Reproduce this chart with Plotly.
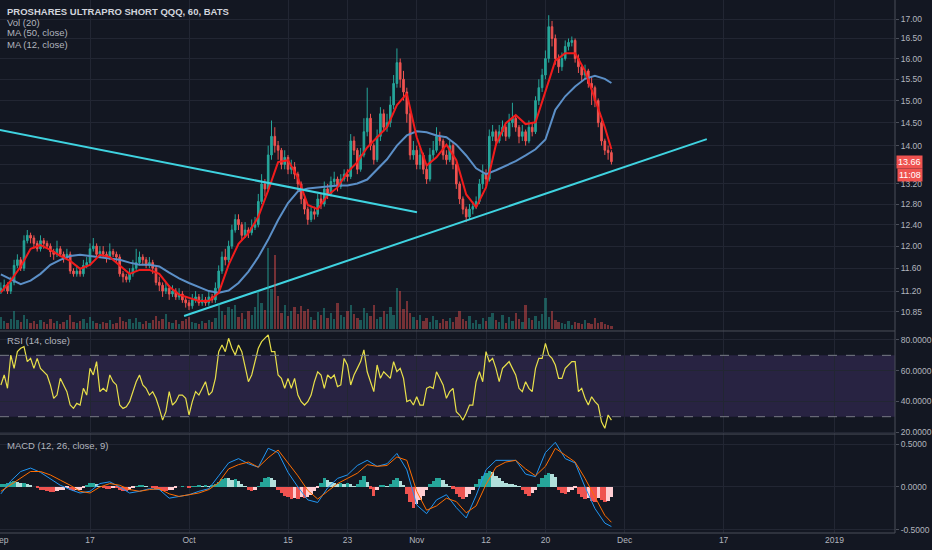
import numpy as np
import plotly.graph_objects as go

# 60 min bars squeezed to 3 samples per trading day, Sep 4 -> Nov 29 2018
close = [
    11.25, 11.30, 11.20, 11.35, 11.65, 11.75, 11.60, 12.10, 12.20, 12.15,
    12.05, 11.95, 12.10, 12.05, 12.00, 11.90, 11.85, 11.95, 11.85, 11.80,
    11.85, 11.55, 11.50, 11.55, 11.50, 11.65, 11.70, 11.95, 12.00, 11.85,
    11.90, 11.85, 11.80, 11.90, 11.85, 11.80, 11.50, 11.45, 11.40, 11.50,
    11.60, 11.70, 11.80, 11.75, 11.65, 11.70, 11.60, 11.35, 11.30, 11.20,
    11.25, 11.15, 11.20, 11.10, 11.15, 11.05, 11.00, 10.95, 11.05, 11.10,
    11.00, 11.05, 11.00, 11.10, 11.05, 11.25, 11.55, 11.80, 11.75, 12.00,
    12.30, 12.50, 12.40, 12.20, 12.30, 12.25, 12.35, 12.40, 12.85, 13.20,
    13.10, 13.80, 14.20, 14.00, 13.90, 13.60, 13.75, 13.50, 13.55, 13.40,
    13.20, 12.90, 12.70, 12.50, 12.65, 12.60, 12.90, 12.80, 13.10, 13.00,
    13.25, 13.30, 13.15, 13.30, 13.40, 13.35, 14.10, 13.90, 13.50, 13.80,
    14.30, 14.60, 14.00, 13.70, 14.20, 14.70, 14.40, 14.50, 14.90, 15.40,
    15.90, 15.50, 15.20, 14.70, 13.80, 13.90, 13.60, 13.80, 13.50, 13.30,
    13.80, 13.90, 14.20, 14.10, 13.80, 13.70, 14.00, 13.60, 13.20, 12.90,
    12.70, 12.55, 12.70, 12.75, 12.85, 13.20, 13.40, 13.30, 14.20, 14.30,
    14.10, 14.30, 14.40, 14.20, 14.50, 14.60, 14.40, 14.20, 14.30, 14.10,
    14.40, 14.30, 15.00, 15.30, 15.60, 16.00, 16.80, 16.50, 16.00, 15.80,
    16.00, 16.30, 16.40, 16.45, 16.00, 15.80, 15.60, 15.70, 15.40, 15.30,
    15.00, 14.50, 14.10, 13.90, 13.85, 13.66,
]
high = [
    11.35, 11.40, 11.35, 11.45, 11.75, 11.85, 11.80, 12.20, 12.30, 12.25,
    12.20, 12.10, 12.20, 12.15, 12.10, 12.05, 11.95, 12.10, 12.00, 11.90,
    11.95, 11.90, 11.60, 11.65, 11.60, 11.75, 11.80, 12.05, 12.15, 12.05,
    12.00, 12.00, 11.90, 12.05, 11.95, 11.90, 11.85, 11.55, 11.50, 11.60,
    11.75, 11.95, 11.90, 11.85, 11.80, 11.80, 11.75, 11.65, 11.45, 11.35,
    11.35, 11.30, 11.30, 11.25, 11.25, 11.20, 11.10, 11.05, 11.15, 11.20,
    11.15, 11.15, 11.10, 11.20, 11.15, 11.35, 11.65, 11.90, 11.95, 12.10,
    12.40, 12.60, 12.60, 12.45, 12.45, 12.35, 12.50, 12.55, 13.00, 13.40,
    13.30, 14.00, 14.55, 14.40, 14.10, 13.95, 13.90, 13.80, 13.70, 13.65,
    13.45, 13.25, 12.95, 12.75, 12.75, 12.75, 13.00, 13.00, 13.25, 13.20,
    13.35, 13.45, 13.35, 13.40, 13.50, 13.50, 14.25, 14.20, 13.95, 13.95,
    14.60, 15.30, 14.70, 14.05, 14.35, 14.85, 14.80, 14.70, 15.10, 15.60,
    16.25, 16.00, 15.70, 15.30, 14.80, 14.10, 14.00, 13.95, 13.85, 13.60,
    13.95, 14.10, 14.40, 14.30, 14.15, 13.90, 14.10, 14.05, 13.65, 13.25,
    12.95, 12.75, 12.80, 12.85, 12.95, 13.30, 13.60, 13.50, 14.35, 14.45,
    14.35, 14.45, 14.55, 14.45, 14.70, 14.95, 14.65, 14.45, 14.45, 14.35,
    14.55, 14.50, 15.10, 15.50, 15.75, 16.20, 17.10, 16.95, 16.60, 16.10,
    16.15, 16.45, 16.50, 16.55, 16.50, 16.10, 15.85, 15.85, 15.75, 15.55,
    15.35, 15.05, 14.55, 14.15, 14.00, 13.90,
]
low = [
    11.15, 11.20, 11.15, 11.15, 11.30, 11.60, 11.55, 11.55, 12.05, 12.05,
    11.95, 11.90, 11.90, 11.95, 11.95, 11.80, 11.75, 11.80, 11.80, 11.70,
    11.75, 11.50, 11.45, 11.45, 11.45, 11.45, 11.60, 11.65, 11.90, 11.80,
    11.80, 11.80, 11.70, 11.75, 11.80, 11.70, 11.45, 11.35, 11.35, 11.35,
    11.45, 11.55, 11.65, 11.65, 11.60, 11.60, 11.50, 11.30, 11.20, 11.10,
    11.15, 11.05, 11.10, 11.05, 11.05, 11.00, 10.92, 10.88, 10.90, 11.00,
    10.95, 10.95, 10.95, 10.95, 11.00, 11.00, 11.20, 11.50, 11.65, 11.70,
    11.95, 12.25, 12.30, 12.10, 12.15, 12.15, 12.20, 12.30, 12.35, 12.80,
    12.95, 13.05, 13.70, 13.85, 13.70, 13.50, 13.50, 13.40, 13.40, 13.30,
    13.05, 12.80, 12.60, 12.40, 12.45, 12.50, 12.55, 12.70, 12.75, 12.90,
    12.95, 13.15, 13.05, 13.10, 13.25, 13.25, 13.30, 13.80, 13.40, 13.45,
    13.75, 14.20, 13.90, 13.60, 13.65, 14.10, 14.30, 14.30, 14.40, 14.80,
    15.30, 15.30, 15.00, 14.50, 13.70, 13.70, 13.50, 13.50, 13.40, 13.20,
    13.25, 13.70, 13.85, 14.00, 13.70, 13.60, 13.65, 13.50, 13.10, 12.80,
    12.60, 12.45, 12.50, 12.60, 12.70, 12.80, 13.10, 13.15, 13.25, 14.10,
    14.00, 14.05, 14.20, 14.10, 14.15, 14.40, 14.30, 14.05, 14.10, 14.00,
    14.05, 14.20, 14.25, 14.90, 15.20, 15.50, 15.90, 16.30, 15.85, 15.65,
    15.70, 15.95, 16.20, 16.30, 15.90, 15.65, 15.45, 15.50, 15.30, 14.90,
    14.85, 14.40, 14.00, 13.80, 13.70, 13.60,
]
first_open = 11.20

# volume in thousands of shares
volume = [
    120, 80, 60, 100, 180, 90, 70, 140, 100, 60,
    80, 50, 90, 70, 50, 100, 60, 80, 50, 70,
    90, 140, 70, 60, 80, 100, 60, 120, 80, 60,
    50, 70, 60, 90, 50, 60, 120, 80, 70, 100,
    60, 110, 70, 50, 80, 60, 90, 130, 80, 100,
    150, 70, 60, 90, 50, 80, 100, 120, 70, 60,
    50, 80, 60, 90, 70, 110, 260, 180, 140, 220,
    200, 240, 120, 160, 100, 180, 140, 220, 380, 260,
    190, 810, 400, 740, 330, 160, 240, 130, 180, 220,
    150, 230, 180, 200, 120, 90, 170, 140, 210, 110,
    160, 100, 260, 140, 120, 180, 240, 150, 110, 90,
    210, 160, 130, 240, 100, 120, 180, 150, 220, 140,
    410, 380, 200, 280, 160, 120, 90, 140, 80, 110,
    70, 130, 90, 60, 100, 80, 110, 70, 120, 180,
    100, 80, 130, 60, 90, 50, 110, 80, 120, 160,
    90, 70, 140, 60, 120, 80, 160, 100, 70, 240,
    110, 90, 130, 80, 150, 310, 120, 180, 90, 70,
    60, 50, 80, 40, 70, 60, 50, 90, 60, 50,
    110, 60, 70, 50, 40, 30,
]

rsi = [
    50.7, 57.2, 48.5, 70.2, 61.5, 72.4, 74.6, 75.7, 65.9, 68.0,
    61.5, 68.0, 61.5, 59.3, 57.2, 50.7, 42.0, 44.1, 55.0, 50.7,
    46.3, 37.6, 35.4, 38.7, 37.6, 48.5, 44.1, 61.5, 57.2, 65.9,
    46.3, 48.5, 46.3, 57.2, 52.8, 50.7, 37.6, 35.4, 36.5, 39.8,
    46.3, 52.8, 57.2, 50.7, 48.5, 44.1, 46.3, 42.0, 35.4, 27.8,
    33.3, 46.3, 37.6, 39.8, 44.1, 44.1, 42.0, 31.1, 39.8, 46.3,
    44.1, 48.5, 52.8, 44.1, 46.3, 55.0, 72.4, 76.7, 72.4, 81.1,
    74.6, 70.2, 76.7, 72.4, 61.5, 52.8, 57.2, 65.9, 74.6, 78.9,
    81.1, 83.3, 72.4, 72.4, 57.2, 55.0, 48.5, 55.0, 48.5, 55.0,
    44.1, 39.8, 37.6, 39.8, 44.1, 52.8, 59.3, 57.2, 48.5, 57.2,
    55.0, 57.2, 49.6, 50.7, 68.0, 63.7, 50.7, 57.2, 61.5, 65.9,
    73.5, 59.3, 52.8, 46.3, 63.7, 55.0, 59.3, 57.2, 55.0, 65.9,
    59.3, 61.5, 55.0, 39.8, 40.9, 37.6, 43.0, 37.6, 37.6, 48.5,
    49.6, 48.5, 59.3, 55.0, 50.7, 42.0, 46.3, 48.5, 33.3, 31.1,
    27.8, 32.2, 37.6, 37.6, 52.8, 59.3, 52.8, 72.4, 65.9, 68.0,
    61.5, 52.8, 61.5, 63.7, 65.9, 61.5, 57.2, 48.5, 46.3, 52.8,
    48.5, 46.3, 61.5, 68.0, 68.0, 77.8, 70.2, 68.0, 63.7, 55.0,
    55.0, 61.5, 63.7, 65.9, 65.9, 46.3, 48.5, 42.0, 37.6, 43.0,
    39.8, 37.6, 26.7, 22.4, 31.1, 27.8,
]

macd_hist = [
    0.03, 0.04, 0.05, 0.06, 0.07, 0.06, 0.05, 0.05, 0.04, 0.02,
    0.00, -0.01, -0.03, -0.04, -0.05, -0.06, -0.06, -0.05, -0.04, -0.03,
    -0.01, -0.03, -0.05, -0.04, -0.03, -0.01, 0.02, 0.05, 0.05, 0.03,
    0.01, -0.01, -0.02, -0.02, -0.01, -0.01, -0.03, -0.05, -0.05, -0.03,
    -0.01, 0.01, 0.02, 0.02, 0.01, 0.00, -0.01, -0.02, -0.04, -0.05,
    -0.05, -0.04, -0.03, -0.01, 0.00, 0.01, 0.00, -0.01, 0.01, 0.01,
    0.02, 0.01, 0.02, 0.01, 0.02, 0.03, 0.06, 0.09, 0.11, 0.10,
    0.08, 0.09, 0.07, 0.04, 0.01, -0.03, -0.05, -0.03, 0.01, 0.06,
    0.10, 0.12, 0.11, 0.08, -0.03, -0.07, -0.10, -0.12, -0.14, -0.13,
    -0.14, -0.12, -0.13, -0.12, -0.09, -0.05, -0.01, 0.05, 0.10, 0.08,
    0.06, 0.05, 0.04, 0.05, 0.03, 0.05, 0.04, 0.01, 0.03, 0.08,
    0.13, 0.06, -0.02, -0.10, -0.04, 0.02, 0.02, 0.01, 0.03, 0.08,
    0.10, 0.07, 0.02, -0.08, -0.18, -0.24, -0.20, -0.15, -0.10, -0.04,
    0.03, 0.07, 0.10, 0.11, 0.08, 0.04, 0.01, -0.02, -0.08, -0.12,
    -0.14, -0.12, -0.08, -0.03, 0.03, 0.09, 0.13, 0.16, 0.18, 0.17,
    0.13, 0.10, 0.07, 0.05, 0.04, 0.03, 0.02, 0.01, -0.04, -0.08,
    -0.10, -0.07, -0.03, 0.04, 0.10, 0.14, 0.16, 0.15, 0.12, -0.03,
    -0.07, -0.08, -0.06, -0.03, -0.01, -0.08, -0.12, -0.14, -0.13, -0.16,
    -0.17, -0.13, -0.15, -0.17, -0.16, -0.12,
]

# indicator lines, one sample per trading day plus the last bar
ma50 = [
    11.49, 11.40, 11.32, 11.38, 11.50, 11.66, 11.75, 11.82, 11.84, 11.82,
    11.80, 11.78, 11.75, 11.70, 11.66, 11.66, 11.63, 11.52, 11.42, 11.34,
    11.27, 11.20, 11.17, 11.21, 11.34, 11.54, 11.80, 12.12, 12.49, 12.82,
    13.05, 13.11, 13.13, 13.15, 13.17, 13.17, 13.21, 13.29, 13.50, 13.71,
    14.00, 14.22, 14.31, 14.29, 14.22, 14.18, 14.02, 13.79, 13.52, 13.40,
    13.48, 13.58, 13.67, 13.79, 13.92, 14.13, 14.79, 15.10, 15.33, 15.51,
    15.58, 15.51, 15.41,
]
ma12 = [
    11.18, 11.38, 11.63, 11.95, 12.02, 11.93, 11.82, 11.73, 11.59, 11.66,
    11.84, 11.80, 11.65, 11.50, 11.57, 11.57, 11.50, 11.28, 11.14, 11.09,
    11.03, 11.03, 11.17, 11.66, 12.04, 12.24, 12.55, 13.07, 13.65, 13.69,
    13.33, 12.78, 12.70, 12.97, 13.13, 13.44, 13.65, 13.96, 14.18, 14.40,
    14.90, 15.16, 14.18, 13.58, 13.75, 14.02, 13.69, 12.99, 12.74, 13.13,
    14.02, 14.49, 14.67, 14.47, 14.51, 15.21, 15.95, 16.13, 16.13, 15.70,
    15.05, 14.40, 13.92,
]
macd = [
    -0.08, 0.07, 0.18, 0.22, 0.17, 0.10, 0.02, -0.03, -0.07, -0.05,
    0.04, 0.06, 0.00, -0.07, -0.05, -0.02, -0.03, -0.13, -0.11, -0.09,
    -0.05, -0.02, 0.13, 0.28, 0.33, 0.27, 0.23, 0.45, 0.40, 0.17,
    0.00, -0.15, -0.18, -0.01, 0.10, 0.14, 0.25, 0.31, 0.24, 0.27,
    0.39, 0.20, -0.21, -0.31, -0.15, -0.09, -0.24, -0.36, -0.10, 0.20,
    0.31, 0.31, 0.31, 0.15, 0.12, 0.40, 0.52, 0.33, 0.28, 0.00,
    -0.25, -0.42, -0.46,
]
signal = [
    -0.05, 0.03, 0.10, 0.18, 0.18, 0.14, 0.08, 0.02, -0.05, -0.07,
    0.00, 0.04, 0.02, -0.03, -0.05, -0.03, -0.02, -0.08, -0.11, -0.09,
    -0.07, -0.03, 0.05, 0.21, 0.26, 0.29, 0.23, 0.34, 0.43, 0.28,
    0.13, -0.04, -0.14, -0.05, 0.04, 0.10, 0.16, 0.26, 0.24, 0.25,
    0.35, 0.31, -0.05, -0.27, -0.22, -0.13, -0.17, -0.30, -0.22, 0.03,
    0.23, 0.29, 0.31, 0.21, 0.13, 0.24, 0.45, 0.37, 0.29, 0.10,
    -0.12, -0.33, -0.41,
]

# hand drawn trend lines (trading day, price)
trend_a_days = [-2.0, 42.03]
trend_a_price = [14.42, 12.64]
trend_b_days = [18.5, 71.3]
trend_b_price = [10.78, 14.14]

tick_days = [0, 9, 19, 29, 35, 42, 49, 55, 63, 73, 84.2]
tick_labels = ["Sep", "17", "Oct", "15", "23", "Nov", "12", "20", "Dec", "17", "2019"]
price_ticks = [10.85, 11.2, 11.6, 12.0, 12.4, 12.8, 13.2, 13.6, 14.0, 14.5, 15.0, 15.5, 16.0, 16.5, 17.0]
price_labels = ["10.85", "11.20", "11.60", "12.00", "12.40", "12.80", "13.20", "",
                "14.00", "14.50", "15.00", "15.50", "16.00", "16.50", "17.00"]
rsi_ticks = [20, 40, 60, 80]
macd_ticks = [-0.5, 0.0, 0.5]

BG = "#131722"
GRID = "#222633"
TXT = "#b2b5be"
BORDER = "#4a4e59"
UP = "#26a69a"
DOWN = "#ef5350"
FONT = "Liberation Sans"

close_a = np.array(close)
open_a = np.concatenate([[first_open], close_a[:-1]])
bar_days = np.arange(len(close)) / 3.0
day_x = np.append(np.arange(len(ma50) - 1), bar_days[-1])

hist_colors = []
for i, h in enumerate(macd_hist):
    prev = macd_hist[i - 1] if i > 0 else 0
    if h >= 0:
        hist_colors.append(UP if h >= prev else "#b2dfdb")
    else:
        hist_colors.append("#ffcdd2" if h > prev else DOWN)

vol_colors = ["rgba(38,166,154,0.45)" if c >= o else "rgba(239,83,80,0.45)"
              for o, c in zip(open_a, close_a)]

fig = go.Figure()

fig.add_trace(go.Bar(x=bar_days, y=volume, marker_color=vol_colors, marker_line_width=0,
                     width=0.24, xaxis="x", yaxis="y4"))

fig.add_trace(go.Candlestick(
    x=bar_days, open=open_a, high=high, low=low, close=close_a,
    increasing=dict(line=dict(color=UP, width=1), fillcolor=UP),
    decreasing=dict(line=dict(color=DOWN, width=1), fillcolor=DOWN),
    xaxis="x", yaxis="y"))

fig.add_trace(go.Scatter(x=day_x, y=ma50, mode="lines", line=dict(color="#5b8fc7", width=2),
                         xaxis="x", yaxis="y"))
fig.add_trace(go.Scatter(x=day_x, y=ma12, mode="lines", line=dict(color="#f21c1c", width=2),
                         xaxis="x", yaxis="y"))
fig.add_trace(go.Scatter(x=trend_a_days, y=trend_a_price, mode="lines",
                         line=dict(color="#3fd3e0", width=2), xaxis="x", yaxis="y"))
fig.add_trace(go.Scatter(x=trend_b_days, y=trend_b_price, mode="lines",
                         line=dict(color="#3fd3e0", width=2), xaxis="x", yaxis="y"))

fig.add_trace(go.Scatter(x=bar_days, y=rsi, mode="lines", line=dict(color="#e8e04a", width=1.2),
                         xaxis="x2", yaxis="y2"))

fig.add_trace(go.Bar(x=bar_days, y=macd_hist, marker_color=hist_colors, marker_line_width=0,
                     width=0.34, xaxis="x3", yaxis="y3"))
fig.add_trace(go.Scatter(x=day_x, y=macd, mode="lines", line=dict(color="#2196f3", width=1),
                         xaxis="x3", yaxis="y3"))
fig.add_trace(go.Scatter(x=day_x, y=signal, mode="lines", line=dict(color="#ff6d00", width=1),
                         xaxis="x3", yaxis="y3"))

xr = [-0.09, 90.31]
d_price = [0.379, 1.0]
d_rsi = [0.1857, 0.379]
d_macd = [0.0, 0.1857]

xcommon = dict(range=xr, tickvals=tick_days, showgrid=True, gridcolor=GRID, zeroline=False,
               showline=False, automargin=False)
ycommon = dict(side="right", showgrid=True, gridcolor=GRID, zeroline=False, showline=False,
               ticks="outside", ticklen=3, tickcolor=BORDER, automargin=False,
               tickfont=dict(family=FONT, size=8.5, color=TXT))

fig.update_layout(
    width=932, height=550,
    margin=dict(l=0, r=37, t=0, b=17, autoexpand=False),
    paper_bgcolor=BG, plot_bgcolor=BG,
    showlegend=False,
    bargap=0,
    font=dict(family=FONT, size=9, color=TXT),
    xaxis=dict(anchor="y", showticklabels=False, rangeslider=dict(visible=False), **xcommon),
    xaxis2=dict(anchor="y2", matches="x", showticklabels=False, **xcommon),
    xaxis3=dict(anchor="y3", matches="x", ticktext=tick_labels, ticks="",
                ticklabeloverflow="allow",
                tickfont=dict(family=FONT, size=8.5, color=TXT), **xcommon),
    yaxis=dict(domain=d_price, type="log", range=[np.log10(10.535), np.log10(17.503)],
               tickvals=price_ticks, ticktext=price_labels, **ycommon),
    yaxis2=dict(domain=d_rsi, range=[18.7, 85.87], tickvals=rsi_ticks,
                ticktext=["%.4f" % v for v in rsi_ticks], **ycommon),
    yaxis3=dict(domain=d_macd, range=[-0.535, 0.616], tickvals=macd_ticks,
                ticktext=["%.4f" % v for v in macd_ticks], **ycommon),
    yaxis4=dict(overlaying="y", range=[-20, 3290], visible=False, automargin=False),
)

shapes = [
    dict(type="rect", xref="paper", yref="y2", x0=0, x1=1, y0=30, y1=70,
         fillcolor="rgba(126,87,194,0.2)", line_width=0, layer="below"),
    dict(type="line", xref="paper", yref="y2", x0=0, x1=1, y0=70, y1=70,
         line=dict(color="#787b86", width=1, dash="dash")),
    dict(type="line", xref="paper", yref="y2", x0=0, x1=1, y0=30, y1=30,
         line=dict(color="#787b86", width=1, dash="dash")),
    dict(type="line", xref="paper", yref="paper", x0=0, x1=1, y0=d_rsi[1], y1=d_rsi[1],
         line=dict(color=BORDER, width=1)),
    dict(type="line", xref="paper", yref="paper", x0=0, x1=1, y0=d_rsi[0], y1=d_rsi[0],
         line=dict(color=BORDER, width=1)),
    dict(type="line", xref="paper", yref="paper", x0=1, x1=1, y0=0, y1=1,
         line=dict(color=BORDER, width=1)),
    dict(type="line", xref="paper", yref="paper", x0=0, x1=1, y0=0, y1=0,
         line=dict(color=BORDER, width=1)),
]
fig.update_layout(shapes=shapes)

labels = [
    ("PROSHARES ULTRAPRO SHORT QQQ, 60, BATS", 11, "#d1d4dc", "bold"),
    ("Vol (20)", 22, TXT, "normal"),
    ("MA (50, close)", 33, TXT, "normal"),
    ("MA (12, close)", 44, TXT, "normal"),
    ("RSI (14, close)", 341, TXT, "normal"),
    ("MACD (12, 26, close, 9)", 445, TXT, "normal"),
]
plot_h = 550 - 17
for text, py, col, weight in labels:
    fig.add_annotation(text=text, xref="paper", yref="paper", x=0, xshift=5,
                       y=1 - py / plot_h, xanchor="left", yanchor="middle", showarrow=False,
                       font=dict(family=FONT, size=9.5, color=col, weight=weight))

last = close[-1]
fig.add_annotation(text="%.2f" % last, xref="paper", yref="y", x=1, xshift=1,
                   y=np.log10(last), xanchor="left", yanchor="middle", showarrow=False,
                   bgcolor=DOWN, borderpad=1,
                   font=dict(family=FONT, size=9, color="white"))
fig.add_annotation(text="11:08", xref="paper", yref="y", x=1, xshift=2,
                   y=np.log10(last), yshift=-13, xanchor="left", yanchor="middle",
                   showarrow=False, bgcolor=DOWN, borderpad=1,
                   font=dict(family=FONT, size=9, color="white"))

# the page body keeps the browser's default 8px margin otherwise
fig.write_html("out.html", config={"displayModeBar": False},
               post_script="document.body.style.margin='0px';document.body.style.background='%s';" % BG)
